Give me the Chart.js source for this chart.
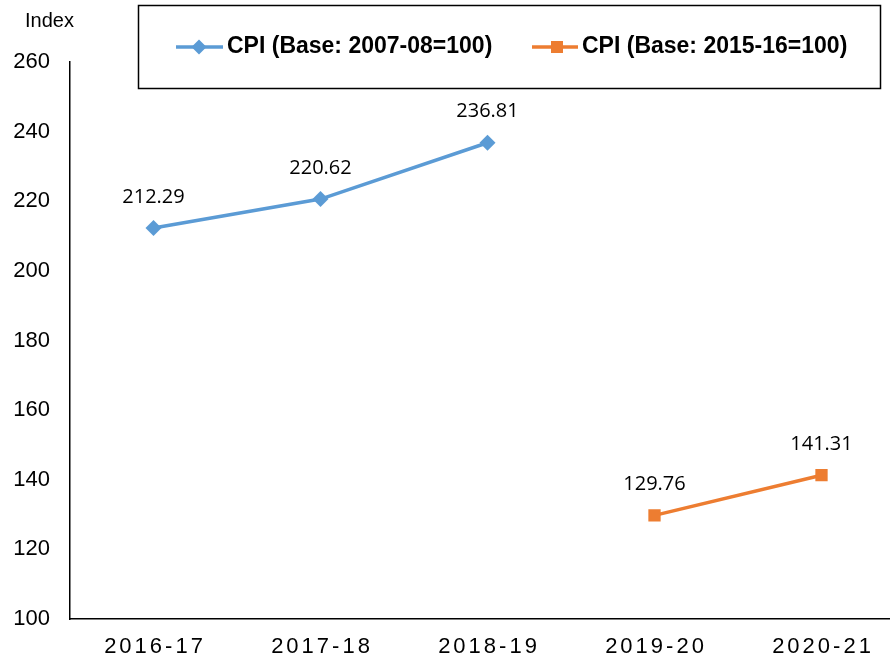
<!DOCTYPE html>
<html>
<head>
<meta charset="utf-8">
<script src="https://cdn.jsdelivr.net/npm/chart.js@4/dist/chart.umd.min.js"></script>
<style>
  html, body { margin: 0; padding: 0; background: #fff; overflow: hidden; }
  #wrap { width: 920px; height: 661px; }
</style>
</head>
<body>
<div id="wrap"><canvas id="c" width="920" height="661"></canvas></div>
<script>
const categories = ['2016-17', '2017-18', '2018-19', '2019-20', '2020-21'];
const seriesNames = ['CPI (Base: 2007-08=100)', 'CPI (Base: 2015-16=100)'];
const cpiBase2007 = [212.29, 220.62, 236.81, null, null];
const cpiBase2015 = [null, null, null, 129.76, 141.31];
const yTicks = [100, 120, 140, 160, 180, 200, 220, 240, 260];
const axisTitle = 'Index';

const BLUE = '#5B9BD5';
const ORANGE = '#ED7D31';

const customDraw = {
  id: 'customDraw',
  afterDraw(chart) {
    const ctx = chart.ctx;
    // axis title
    ctx.save();
    ctx.fillStyle = '#000';
    ctx.font = '20px Arial, "Liberation Sans", sans-serif';
    ctx.textAlign = 'left';
    ctx.textBaseline = 'middle';
    ctx.fillText(axisTitle, 25, 21);
    ctx.restore();

    // x tick labels with letter spacing
    const xs = chart.scales.x;
    ctx.save();
    ctx.fillStyle = '#000';
    ctx.font = '22px Arial, "Liberation Sans", sans-serif';
    ctx.textAlign = 'center';
    ctx.textBaseline = 'middle';
    try { ctx.letterSpacing = '3px'; } catch (e) {}
    categories.forEach((c, i) => {
      ctx.fillText(c, xs.getPixelForTick(i) + 1.5, 647);
    });
    ctx.restore();

    // data labels
    ctx.save();
    ctx.fillStyle = '#000';
    ctx.font = '20px "Open Sans", "Noto Sans", sans-serif';
    ctx.textAlign = 'center';
    ctx.textBaseline = 'middle';
    chart.data.datasets.forEach((ds, di) => {
      const meta = chart.getDatasetMeta(di);
      meta.data.forEach((pt, i) => {
        const v = ds.data[i];
        if (v === null || v === undefined) return;
        ctx.fillText(v.toFixed(2), pt.x, pt.y - 31);
      });
    });
    ctx.restore();

    // legend box
    ctx.save();
    ctx.strokeStyle = '#000';
    ctx.lineWidth = 1.5;
    ctx.strokeRect(138.5, 5.5, 742, 83);
    const items = [
      { x0: 176, x1: 223, mx: 199, tx: 227, color: BLUE, shape: 'diamond', label: seriesNames[0] },
      { x0: 532, x1: 578, mx: 557, tx: 582, color: ORANGE, shape: 'square', label: seriesNames[1] }
    ];
    const ly = 47;
    items.forEach(it => {
      ctx.strokeStyle = it.color;
      ctx.lineWidth = 3.5;
      ctx.beginPath();
      ctx.moveTo(it.x0, ly);
      ctx.lineTo(it.x1, ly);
      ctx.stroke();
      ctx.fillStyle = it.color;
      ctx.beginPath();
      if (it.shape === 'diamond') {
        ctx.moveTo(it.mx, ly - 7.5);
        ctx.lineTo(it.mx + 7.5, ly);
        ctx.lineTo(it.mx, ly + 7.5);
        ctx.lineTo(it.mx - 7.5, ly);
        ctx.closePath();
        ctx.fill();
      } else {
        ctx.fillRect(it.mx - 6, ly - 6, 12, 12);
      }
      ctx.fillStyle = '#000';
      ctx.font = 'bold 23px Arial, "Liberation Sans", sans-serif';
      ctx.textAlign = 'left';
      ctx.textBaseline = 'middle';
      ctx.fillText(it.label, it.tx, ly);
    });
    ctx.restore();
  }
};

new Chart(document.getElementById('c'), {
  type: 'line',
  data: {
    labels: categories,
    datasets: [
      {
        label: seriesNames[0],
        data: cpiBase2007,
        borderColor: BLUE,
        backgroundColor: BLUE,
        borderWidth: 3.5,
        pointStyle: 'rectRot',
        pointRadius: 8,
        pointHoverRadius: 8,
        pointBorderWidth: 0,
        tension: 0,
        spanGaps: false
      },
      {
        label: seriesNames[1],
        data: cpiBase2015,
        borderColor: ORANGE,
        backgroundColor: ORANGE,
        borderWidth: 3.5,
        pointStyle: 'rect',
        pointRadius: 8.7,
        pointHoverRadius: 8.7,
        pointBorderWidth: 0,
        tension: 0,
        spanGaps: false
      }
    ]
  },
  options: {
    responsive: false,
    animation: false,
    events: [],
    layout: { padding: { top: 62, left: 0, right: 15, bottom: 0 } },
    plugins: {
      legend: { display: false },
      tooltip: { enabled: false }
    },
    scales: {
      x: {
        offset: true,
        grid: { display: false, drawTicks: false },
        border: { display: true, color: '#000', width: 1.5 },
        ticks: { display: false },
        afterFit(scale) { scale.height = 42; }
      },
      y: {
        min: 100,
        max: 260,
        afterBuildTicks(scale) { scale.ticks = yTicks.map(v => ({ value: v })); },
        grid: { display: false, drawTicks: false },
        border: { display: true, color: '#000', width: 1.5 },
        ticks: {
          color: '#000',
          padding: 20,
          font: { family: 'Arial, "Liberation Sans", sans-serif', size: 22 }
        },
        afterFit(scale) { scale.width = 70; }
      }
    }
  },
  plugins: [customDraw]
});
</script>
</body>
</html>
